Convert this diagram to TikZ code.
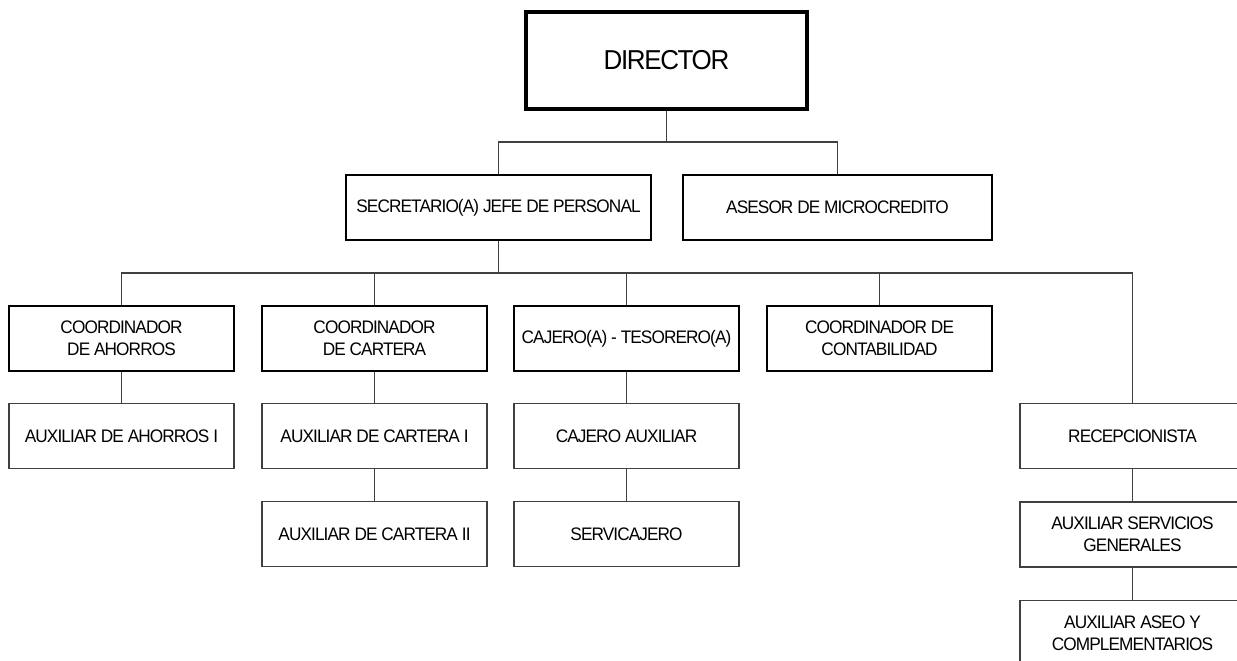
\documentclass[tikz,border=0pt]{standalone}
\usepackage{fontspec}
\setmainfont{Liberation Sans}[FakeStretch=0.95,LetterSpace=-5]
\begin{document}
\begin{tikzpicture}[x=0.75pt,y=-0.75pt,
  unit/.style={draw=black,fill=white,align=center,inner sep=0pt,
    font=\fontsize{13.6}{16.3}\selectfont,
    minimum width=168.75pt,minimum height=48.75pt},
  topbox/.style={unit,line width=3pt,minimum width=210.75pt,minimum height=72.75pt,
    font=\fontsize{20.5}{24}\selectfont},
  staffbox/.style={unit,line width=2pt},
  leadbox/.style={unit,line width=1.1pt},
  subbox/.style={unit,draw=black!75,line width=0.8pt},
  link/.style={draw=black!75,line width=0.8pt}]
\clip (0,0) rectangle (1237,660);
\fill[white] (0,0) rectangle (1237,660);

% top level
\node[topbox] (dir) at (666.5,60.5) {DIRECTOR};
\node[staffbox,minimum width=228.75pt] (sec) at (498.5,207.5) {SECRETARIO(A) JEFE DE PERSONAL};
\node[staffbox,minimum width=231.75pt] (ase) at (837.5,207.5) {ASESOR DE MICROCREDITO};

% coordinators
\node[leadbox] (ahorro) at (121.5,338.5) {COORDINADOR\\DE AHORROS};
\node[leadbox] (cartera) at (374.5,338.5) {COORDINADOR\\DE CARTERA};
\node[leadbox] (cajero) at (626.5,338.5) {CAJERO(A) - TESORERO(A)};
\node[leadbox] (conta) at (879.5,338.5) {COORDINADOR DE\\CONTABILIDAD};

% assistants
\node[subbox] (auxah) at (121.5,436) {AUXILIAR DE AHORROS I};
\node[subbox] (auxca1) at (374.5,436) {AUXILIAR DE CARTERA I};
\node[subbox] (cajaux) at (626.5,436) {CAJERO AUXILIAR};
\node[subbox] (recep) at (1132.5,436) {RECEPCIONISTA};
\node[subbox] (auxca2) at (374.5,534) {AUXILIAR DE CARTERA II};
\node[subbox] (servi) at (626.5,534) {SERVICAJERO};
\node[subbox] (auxserv) at (1132.5,534.5) {AUXILIAR SERVICIOS\\GENERALES};
\node[subbox] (aseo) at (1132.5,633) {AUXILIAR ASEO Y\\COMPLEMENTARIOS};

% connectors
\coordinate (j1) at (666.5,142);
\coordinate (j2) at (498.5,273);
\draw[link] (dir.south) -- (j1);
\draw[link] (sec.north) |- (j1) -| (ase.north);
\draw[link] (sec.south) -- (j2);
\draw[link] (ahorro.north) |- (j2) -| (recep.north);
\draw[link] (cartera.north) -- (cartera.north |- j2);
\draw[link] (cajero.north) -- (cajero.north |- j2);
\draw[link] (conta.north) -- (conta.north |- j2);
\draw[link] (ahorro.south) -- (auxah.north);
\draw[link] (cartera.south) -- (auxca1.north);
\draw[link] (auxca1.south) -- (auxca2.north);
\draw[link] (cajero.south) -- (cajaux.north);
\draw[link] (cajaux.south) -- (servi.north);
\draw[link] (recep.south) -- (auxserv.north);
\draw[link] (auxserv.south) -- (aseo.north);
\end{tikzpicture}
\end{document}
